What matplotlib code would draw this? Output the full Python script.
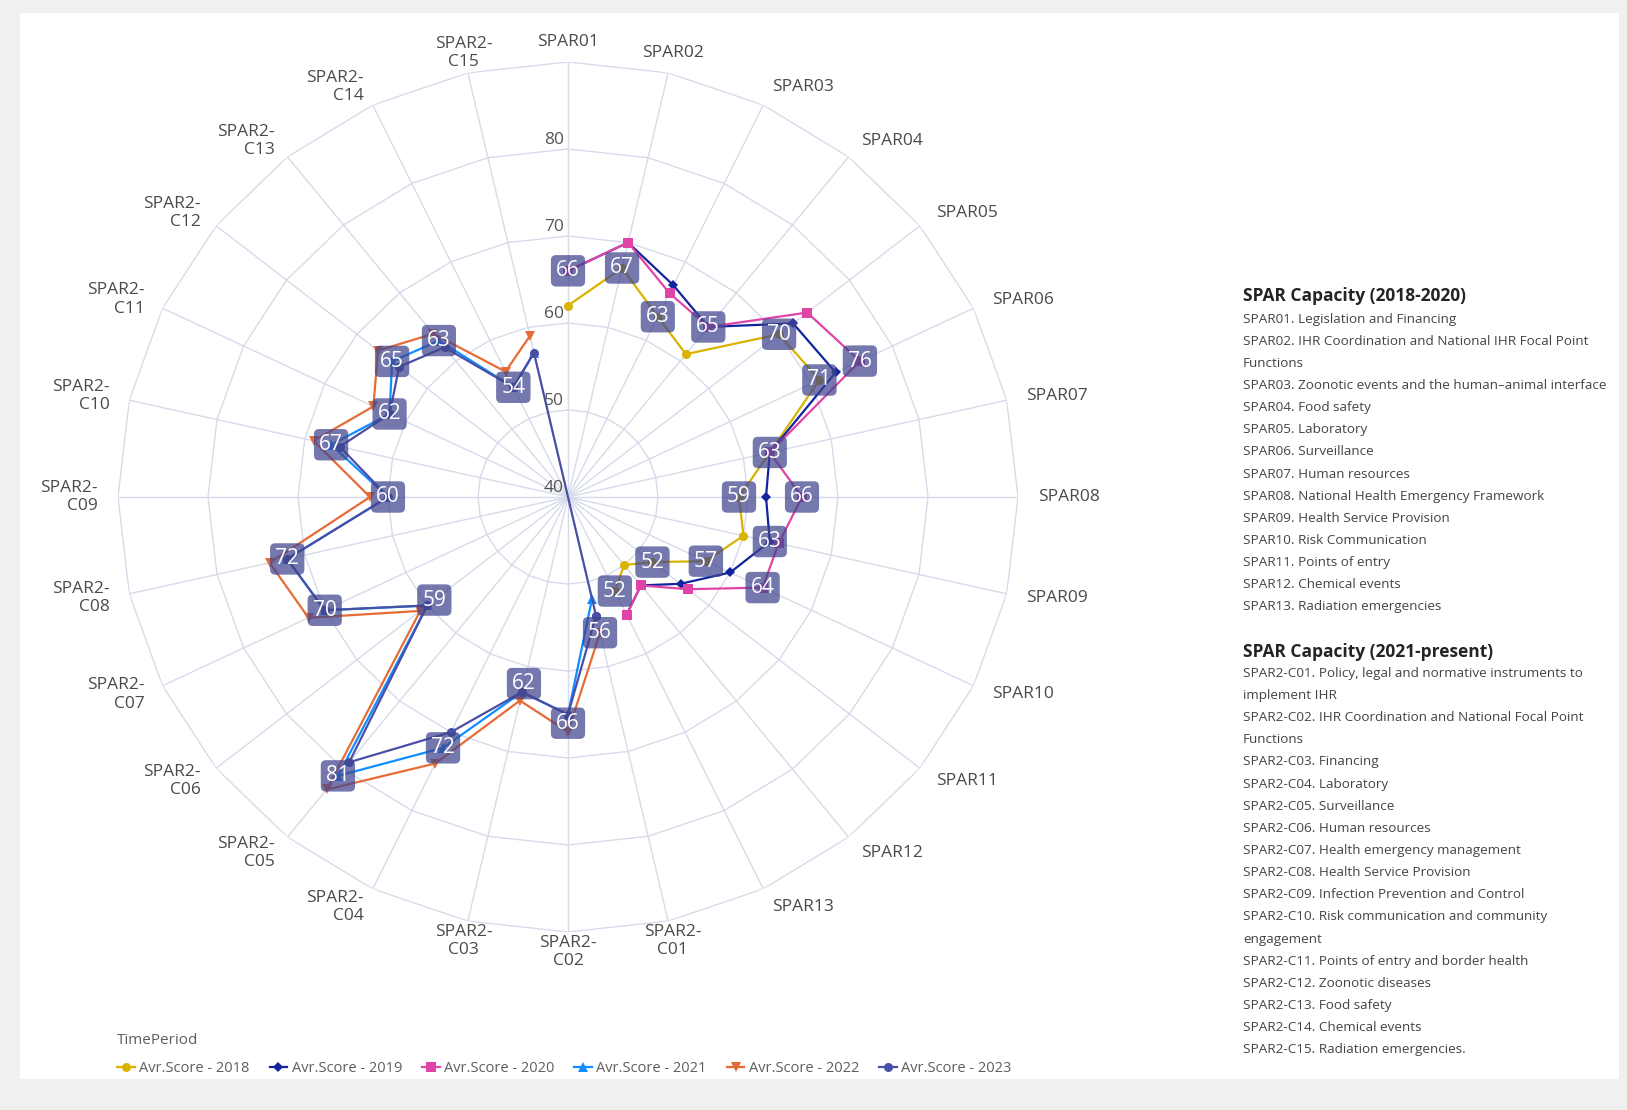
import numpy as np
import matplotlib
matplotlib.use('Agg')
import matplotlib.pyplot as plt
from matplotlib.patches import Rectangle

plt.rcParams['font.family'] = ['Open Sans', 'DejaVu Sans']

W, H = 1627, 1110

# categories, clockwise from the top
spar_cats = ['SPAR01', 'SPAR02', 'SPAR03', 'SPAR04', 'SPAR05', 'SPAR06', 'SPAR07',
             'SPAR08', 'SPAR09', 'SPAR10', 'SPAR11', 'SPAR12', 'SPAR13']
spar2_cats = ['SPAR2-C01', 'SPAR2-C02', 'SPAR2-C03', 'SPAR2-C04', 'SPAR2-C05',
              'SPAR2-C06', 'SPAR2-C07', 'SPAR2-C08', 'SPAR2-C09', 'SPAR2-C10',
              'SPAR2-C11', 'SPAR2-C12', 'SPAR2-C13', 'SPAR2-C14', 'SPAR2-C15']
categories = spar_cats + spar2_cats

# average scores (2018-2020 on SPAR, 2021-2023 on SPAR2)
score_2018 = [62, 67, 63, 61, 70, 71, 63, 59, 60, 57, 52, 50, 52]
score_2019 = [66, 70, 67, 65, 72, 73, 63, 62, 63, 60, 56, 53, 55]
score_2020 = [66, 70, 66, 65, 74, 76, 63, 66, 64, 64, 57, 53, 55]
score_2021 = [52, 65, 63, 72, 81, 60, 70, 72, 60, 67, 62, 65, 63, 54, 57]
score_2022 = [56, 67, 64, 74, 83, 61, 72, 74, 62, 69, 64, 67, 64, 56, 59]
score_2023 = [54, 65, 63, 70, 79, 60, 70, 72, 60, 66, 62, 64, 62, 54, 57]

# data labels shown on the chart
label_cats = ['SPAR01', 'SPAR02', 'SPAR03', 'SPAR04', 'SPAR05', 'SPAR06', 'SPAR06',
              'SPAR07', 'SPAR08', 'SPAR08', 'SPAR09', 'SPAR10', 'SPAR10', 'SPAR11',
              'SPAR13', 'SPAR2-C01', 'SPAR2-C02', 'SPAR2-C03', 'SPAR2-C04',
              'SPAR2-C05', 'SPAR2-C06', 'SPAR2-C07', 'SPAR2-C08', 'SPAR2-C09',
              'SPAR2-C10', 'SPAR2-C11', 'SPAR2-C12', 'SPAR2-C13', 'SPAR2-C14']
label_vals = [66, 67, 63, 65, 70, 76, 71, 63, 59, 66, 63, 57, 64, 52, 52,
              56, 66, 62, 72, 81, 59, 70, 72, 60, 67, 62, 65, 63, 54]

r_ticks = [40, 50, 60, 70, 80]
r_max = 90

panel1_title = 'SPAR Capacity (2018-2020)'
panel1_lines = ['SPAR01. Legislation and Financing',
                'SPAR02. IHR Coordination and National IHR Focal Point',
                'Functions',
                'SPAR03. Zoonotic events and the human\u2013animal interface',
                'SPAR04. Food safety',
                'SPAR05. Laboratory',
                'SPAR06. Surveillance',
                'SPAR07. Human resources',
                'SPAR08. National Health Emergency Framework',
                'SPAR09. Health Service Provision',
                'SPAR10. Risk Communication',
                'SPAR11. Points of entry',
                'SPAR12. Chemical events',
                'SPAR13. Radiation emergencies']
panel2_title = 'SPAR Capacity (2021-present)'
panel2_lines = ['SPAR2-C01. Policy, legal and normative instruments to',
                'implement IHR',
                'SPAR2-C02. IHR Coordination and National Focal Point',
                'Functions',
                'SPAR2-C03. Financing',
                'SPAR2-C04. Laboratory',
                'SPAR2-C05. Surveillance',
                'SPAR2-C06. Human resources',
                'SPAR2-C07. Health emergency management',
                'SPAR2-C08. Health Service Provision',
                'SPAR2-C09. Infection Prevention and Control',
                'SPAR2-C10. Risk communication and community',
                'engagement',
                'SPAR2-C11. Points of entry and border health',
                'SPAR2-C12. Zoonotic diseases',
                'SPAR2-C13. Food safety',
                'SPAR2-C14. Chemical events',
                'SPAR2-C15. Radiation emergencies.']

grid_color = '#d6dbea'
text_color = '#4a4a4a'


def fx(px):
    return px / W


def fy(py):
    return 1 - py / H


fig = plt.figure(figsize=(W / 100, H / 100), dpi=100, facecolor='#f0f0f0')
fig.add_artist(Rectangle((fx(20), fy(1079)), fx(1619) - fx(20), fy(13) - fy(1079),
                         transform=fig.transFigure, facecolor='white',
                         edgecolor='none', zorder=0))

ax = fig.add_axes([fx(118), fy(932), fx(1018) - fx(118), fy(62) - fy(932)],
                  projection='polar')
ax.set_aspect('auto')
ax.set_theta_zero_location('N')
ax.set_theta_direction(-1)
ax.set_ylim(r_ticks[0], r_max)
ax.set_xticks([])
ax.set_yticks([])
ax.grid(False)
ax.spines['polar'].set_visible(False)

theta = np.linspace(0, 2 * np.pi, len(categories), endpoint=False)
pos = {c: t for c, t in zip(categories, theta)}

# polygon grid
loop = np.append(theta, theta[0])
for r in r_ticks[1:] + [r_max]:
    ax.plot(loop, [r] * len(loop), color=grid_color, lw=1, zorder=1)
for t in theta:
    ax.plot([t, t], [r_ticks[0], r_max], color=grid_color, lw=1, zorder=1)

for r in r_ticks:
    ax.annotate(str(r), xy=(0, r), xytext=(-3, 0.5), textcoords='offset points',
                ha='right', va='bottom', fontsize=12.5, color='#555555')

# category labels around the outside
d = 14.5
for c, t in zip(categories, theta):
    s, co = np.sin(t), np.cos(t)
    if abs(s) < 0.3:
        ha = 'center'
    elif s > 0:
        ha = 'left'
    else:
        ha = 'right'
    ax.annotate(c.replace('-', '-\n'), xy=(t, r_max), xytext=(d * s, d * co),
                textcoords='offset points', ha=ha, va='center', fontsize=12.5,
                color=text_color, annotation_clip=False)

series = [
    ('Avr.Score - 2018', spar_cats, score_2018, '#D9B300', 'o', 6.5, False),
    ('Avr.Score - 2019', spar_cats, score_2019, '#12239E', 'D', 5, False),
    ('Avr.Score - 2020', spar_cats, score_2020, '#E044A7', 's', 6.5, False),
    ('Avr.Score - 2021', spar2_cats, score_2021, '#118DFF', '^', 6.5, False),
    ('Avr.Score - 2022', spar2_cats, score_2022, '#E66C37', 'v', 6.5, False),
    ('Avr.Score - 2023', spar2_cats, score_2023, '#4a4fa6', 'o', 6.5, True),
]
handles = []
for k, (name, cats, vals, col, mk, ms, closed) in enumerate(series):
    th = [pos[c] for c in cats]
    vv = list(vals)
    if closed:
        th = th + th[:1]
        vv = vv + vv[:1]
    ln, = ax.plot(th, vv, color=col, lw=1.6, marker=mk, ms=ms, mew=0,
                  label=name, zorder=3 + k)
    handles.append(ln)

for c, v in zip(label_cats, label_vals):
    ax.annotate(str(v), xy=(pos[c], v), ha='center', va='center', fontsize=15,
                color='white', zorder=20,
                bbox=dict(boxstyle='round,pad=0.25,rounding_size=0.25',
                          facecolor='#40448e', alpha=0.72, edgecolor='none'))

leg = fig.legend(handles=handles, loc='upper left',
                 bbox_to_anchor=(fx(110), fy(1026)), ncol=6, frameon=False,
                 title='TimePeriod', alignment='left', fontsize=10.5,
                 title_fontsize=11, handlelength=1.2, handletextpad=0.3,
                 columnspacing=1.38, borderpad=0, labelspacing=0.85)
for txt in leg.get_texts():
    txt.set_color('#605e5c')
leg.get_title().set_color('#605e5c')

# right side description panel
x0 = fx(1243)
fig.text(x0, fy(296), panel1_title, fontsize=12.5, fontweight='bold',
         color='#252423', va='center')
for i, line in enumerate(panel1_lines):
    fig.text(x0, fy(319.3 + i * 22.1), line, fontsize=9.7, color='#444444',
             va='center')
fig.text(x0, fy(652), panel2_title, fontsize=12.5, fontweight='bold',
         color='#252423', va='center')
for i, line in enumerate(panel2_lines):
    fig.text(x0, fy(673.3 + i * 22.15), line, fontsize=9.7, color='#444444',
             va='center')

fig.savefig('out.png', dpi=100, facecolor=fig.get_facecolor())
